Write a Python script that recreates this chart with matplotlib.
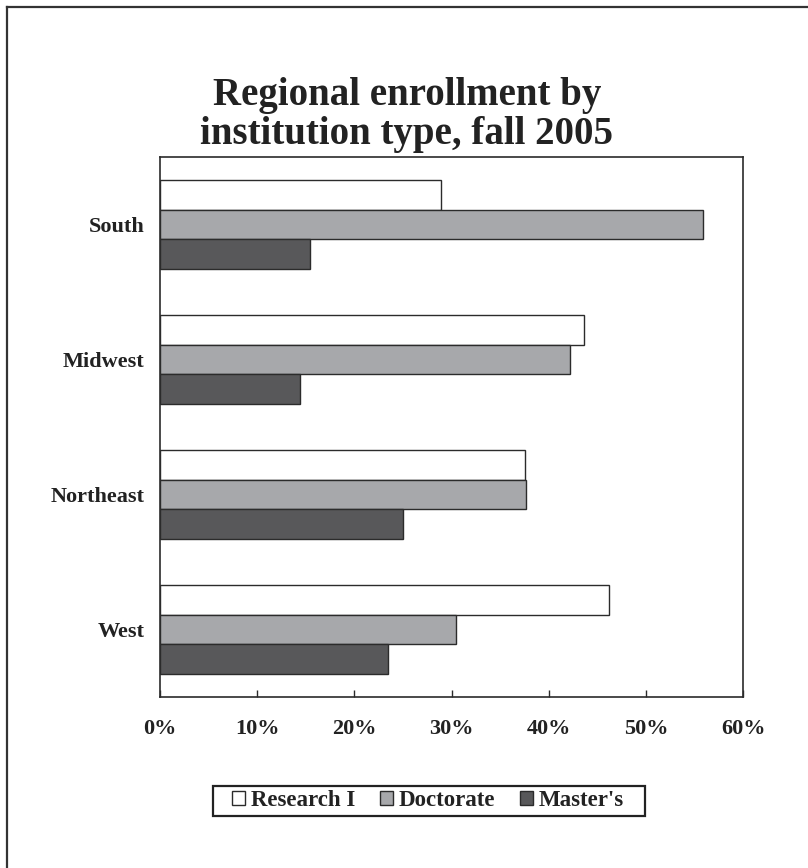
import matplotlib
matplotlib.use("Agg")
import matplotlib.pyplot as plt
from matplotlib.patches import Patch, Rectangle
from matplotlib.lines import Line2D
import numpy as np

regions = ["South", "Midwest", "Northeast", "West"]
series_names = ["Research I", "Doctorate", "Master's"]
research_1 = [28.9, 43.6, 37.6, 46.2]
doctorate = [55.9, 42.2, 37.7, 30.5]
masters = [15.4, 14.4, 25.0, 23.5]
x_ticks = [0, 10, 20, 30, 40, 50, 60]
x_tick_labels = ["0%", "10%", "20%", "30%", "40%", "50%", "60%"]

colors = ["#ffffff", "#a7a8ab", "#58585a"]
edge = "#2b2b2b"
text_col = "#222222"

plt.rcParams["font.family"] = ["Liberation Serif", "DejaVu Serif"]
plt.rcParams["font.weight"] = "bold"

W, H = 808, 868
fig = plt.figure(figsize=(W / 100, H / 100), dpi=100)
ax = fig.add_axes([160 / W, (H - 697) / H, 583 / W, 540 / H])

bar_h = 0.222
y = np.arange(len(regions))
for i, (vals, col, name) in enumerate(zip([research_1, doctorate, masters], colors, series_names)):
    ax.barh(y + (i - 1) * bar_h, vals, height=bar_h, color=col,
            edgecolor=edge, linewidth=1.0, label=name)

ax.set_xlim(0, 60)
ax.set_ylim(3.5, -0.5)
ax.set_xticks(x_ticks)
ax.set_xticklabels(x_tick_labels, fontsize=16, fontweight="bold", color=text_col)
ax.set_yticks(y)
ax.set_yticklabels(regions, fontsize=16, fontweight="bold", color=text_col)
ax.tick_params(axis="x", direction="in", length=5, width=1.0, color=edge, pad=16)
ax.tick_params(axis="y", length=0, pad=11)
for s in ax.spines.values():
    s.set_color(edge)
    s.set_linewidth(1.2)

fig.text(407 / W, 1 - 115 / H, "Regional enrollment by\ninstitution type, fall 2005",
         ha="center", va="center", fontsize=28, fontweight="bold",
         color=text_col, linespacing=1.05)

# legend box drawn separately so its padding can be set per side
fig.add_artist(Rectangle((213 / W, 1 - 816 / H), (645 - 213) / W, 30 / H,
                         transform=fig.transFigure, facecolor="white",
                         edgecolor=text_col, linewidth=1.6, zorder=3))
handles = [Patch(facecolor=c, edgecolor=edge, linewidth=1.0) for c in colors]
leg = fig.legend(handles, series_names, loc="center",
                 bbox_to_anchor=(428 / W, 1 - 801 / H), ncol=3,
                 frameon=False, fontsize=16.5,
                 handlelength=0.55, handleheight=0.55, handletextpad=0.25,
                 columnspacing=1.1, borderpad=0.0, borderaxespad=0)
leg.set_zorder(4)
for t in leg.get_texts():
    t.set_color(text_col)
    t.set_fontweight("bold")

# page frame along top and left edges
fig.add_artist(Line2D([7 / W, 1], [1 - 6.5 / H, 1 - 6.5 / H], color="#333333", lw=1.6,
                      transform=fig.transFigure))
fig.add_artist(Line2D([7 / W, 7 / W], [0, 1 - 6.5 / H], color="#333333", lw=1.6,
                      transform=fig.transFigure))

fig.savefig("out.png", dpi=100)
